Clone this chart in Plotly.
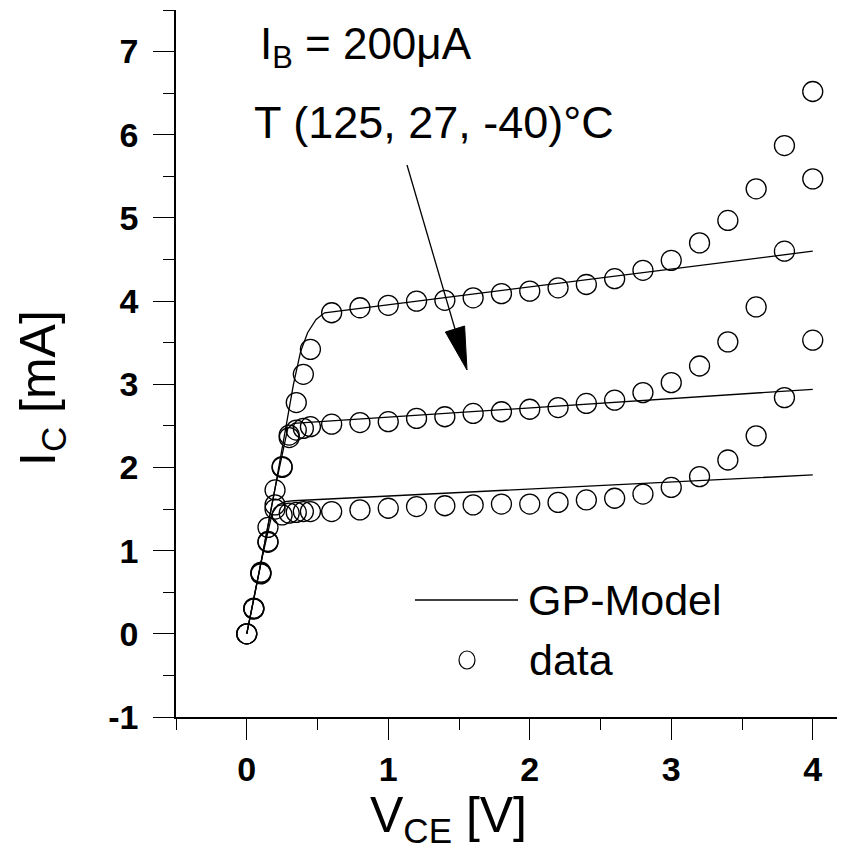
import plotly.graph_objects as go

# ---------------- data ----------------
vce_low = [0, 0.05, 0.1, 0.15, 0.2, 0.25, 0.3, 0.35, 0.4, 0.45]
vce_high = [0.6, 0.8, 1.0, 1.2, 1.4, 1.6, 1.8, 2.0, 2.2, 2.4, 2.6, 2.8, 3.0, 3.2, 3.4, 3.6, 3.8, 4.0]

ic_top_low = [0, 0.31, 0.74, 1.11, 1.73, 2.01, 2.39, 2.78, 3.12, 3.42]
ic_top_high = [3.86, 3.92, 3.95, 4.00, 4.01, 4.04, 4.09, 4.12, 4.16, 4.20, 4.27, 4.37, 4.49, 4.70, 4.97, 5.35, 5.87, 6.52]

ic_mid_low = [0, 0.30, 0.73, 1.10, 1.55, 2.00, 2.36, 2.45, 2.47, 2.49]
ic_mid_high = [2.52, 2.54, 2.55, 2.59, 2.61, 2.65, 2.67, 2.70, 2.72, 2.77, 2.81, 2.90, 3.02, 3.22, 3.51, 3.93, 4.60, 5.47]

ic_bot_low = [0, 0.30, 0.72, 1.28, 1.50, 1.43, 1.45, 1.46, 1.47, 1.47]
ic_bot_high = [1.47, 1.49, 1.51, 1.53, 1.54, 1.55, 1.56, 1.56, 1.58, 1.61, 1.63, 1.68, 1.76, 1.89, 2.09, 2.38, 2.84, 3.53]

model_top_x = [0, 0.1, 0.2, 0.28, 0.33, 0.38, 0.43, 0.49, 0.55, 4.0]
model_top_y = [0, 0.85, 1.75, 2.5, 3.0, 3.39, 3.62, 3.78, 3.86, 4.6]
model_mid_x = [0, 0.1, 0.2, 0.26, 0.29, 0.33, 4.0]
model_mid_y = [0, 0.85, 1.75, 2.25, 2.47, 2.53, 2.94]
model_bot_x = [0, 0.1, 0.18, 0.22, 0.27, 0.33, 4.0]
model_bot_y = [0, 0.85, 1.45, 1.55, 1.59, 1.60, 1.91]

x_ticks = [0, 1, 2, 3, 4]
x_tick_text = ["0", "1", "2", "3", "4"]
y_ticks = [-1, 0, 1, 2, 3, 4, 5, 6, 7]
y_tick_text = ["-1", "0", "1", "2", "3", "4", "5", "6", "7"]

FONT = "Liberation Sans, Arial, sans-serif"

# page layout (browser adds an 8px body margin)
PAD = 8
W, H = 845, 857
L, R, T, B = 176, 845, 10, 717          # plot area in page pixels

fig = go.Figure()

for mx, my in [(model_top_x, model_top_y), (model_mid_x, model_mid_y), (model_bot_x, model_bot_y)]:
    fig.add_trace(go.Scatter(x=mx, y=my, mode="lines",
                             line=dict(color="black", width=1.3),
                             showlegend=False, hoverinfo="skip"))

for ylow, yhigh in [(ic_top_low, ic_top_high), (ic_mid_low, ic_mid_high), (ic_bot_low, ic_bot_high)]:
    fig.add_trace(go.Scatter(x=vce_low + vce_high, y=ylow + yhigh, mode="markers",
                             marker=dict(symbol="circle-open", size=20, color="black",
                                         line=dict(width=1.3, color="black")),
                             showlegend=False, cliponaxis=False))

X0, X1 = -0.5, -0.5 + (R - L) / 141.5
Y0, Y1 = -1.0, 7.5
def to_data(px, py):
    return (X0 + (px - L) / (R - L) * (X1 - X0), Y0 + (B - py) / (B - T) * (Y1 - Y0))
def px_paper(px):
    return (px - L) / (R - L)
def py_paper(py):
    return (B - py) / (B - T)

# arrow
tail = to_data(407, 165)
tip = to_data(467, 370)
base = to_data(455, 329)
bl = to_data(445.4, 332)
br = to_data(464.6, 326)
fig.add_shape(type="line", x0=tail[0], y0=tail[1], x1=base[0], y1=base[1],
              xref="x", yref="y", line=dict(color="black", width=1.3))
fig.add_shape(type="path", xref="x", yref="y",
              path=f"M{bl[0]},{bl[1]} L{tip[0]},{tip[1]} L{br[0]},{br[1]} Z",
              fillcolor="black", line=dict(color="black", width=1))

# annotations
fig.add_annotation(text="I<sub>B</sub> = 200μA", xref="paper", yref="paper",
                   x=px_paper(258), y=py_paper(47), xanchor="left", yanchor="middle",
                   showarrow=False, font=dict(family=FONT, size=44, color="black"))
fig.add_annotation(text="T (125, 27, -40)°C", xref="paper", yref="paper",
                   x=px_paper(252), y=py_paper(122), xanchor="left", yanchor="middle",
                   showarrow=False, font=dict(family=FONT, size=45, color="black"))

# manual legend
fig.add_shape(type="line", xref="paper", yref="paper",
              x0=px_paper(415), x1=px_paper(518), y0=py_paper(600), y1=py_paper(600),
              line=dict(color="black", width=1.3))
fig.add_annotation(text="GP-Model", xref="paper", yref="paper",
                   x=px_paper(526), y=py_paper(600), xanchor="left", yanchor="middle",
                   showarrow=False, font=dict(family=FONT, size=43, color="black"))
fig.add_shape(type="circle", xref="paper", yref="paper", xsizemode="pixel", ysizemode="pixel",
              xanchor=px_paper(467), yanchor=py_paper(660),
              x0=-8, x1=8, y0=-9, y1=9, line=dict(color="black", width=1.2))
fig.add_annotation(text="data", xref="paper", yref="paper",
                   x=px_paper(527), y=py_paper(660), xanchor="left", yanchor="middle",
                   showarrow=False, font=dict(family=FONT, size=43, color="black"))

# axis titles
fig.add_annotation(text="V<sub>CE</sub> [V]", xref="paper", yref="paper",
                   x=px_paper(368), y=py_paper(818), xanchor="left", yanchor="middle",
                   showarrow=False, font=dict(family=FONT, size=50, color="black"))
fig.add_annotation(text="I<sub>C</sub> [mA]", xref="paper", yref="paper", textangle=-90,
                   x=px_paper(41), y=py_paper(388), xanchor="center", yanchor="middle",
                   showarrow=False, font=dict(family=FONT, size=50, color="black"))

axis_common = dict(showline=True, linecolor="black", linewidth=1.5, ticks="outside",
                   ticklen=21, tickwidth=1.3, tickcolor="black", showgrid=False, zeroline=False,
                   tickfont=dict(family=FONT, size=34, color="black", weight="bold"),
                   mirror=False)

fig.update_xaxes(range=[X0, X1], tickvals=x_ticks, ticktext=x_tick_text, ticklabelstandoff=0,
                 minor=dict(dtick=0.5, tick0=0, ticks="outside", ticklen=11, tickwidth=1.3, tickcolor="black"),
                 **axis_common)
fig.update_yaxes(range=[Y0, Y1], tickvals=y_ticks, ticktext=y_tick_text, ticklabelstandoff=8,
                 minor=dict(dtick=0.5, tick0=0, ticks="outside", ticklen=11, tickwidth=1.3, tickcolor="black"),
                 **axis_common)

fig.update_layout(width=W - PAD, height=H - PAD,
                  margin=dict(l=L - PAD, r=W - R, t=T - PAD, b=H - B),
                  plot_bgcolor="white", paper_bgcolor="white", showlegend=False,
                  font=dict(family=FONT, color="black"))

fig.write_html("out.html")
